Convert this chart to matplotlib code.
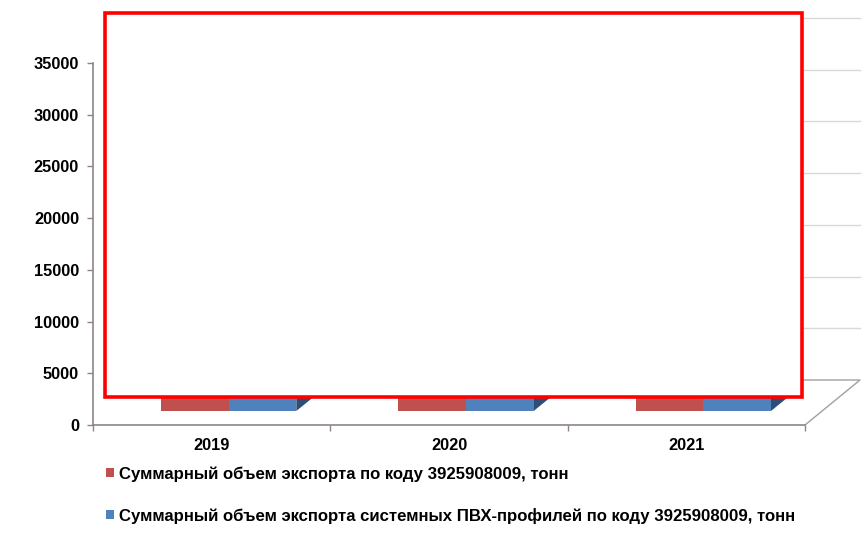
import matplotlib.pyplot as plt
import matplotlib.transforms as mtransforms
from matplotlib.patches import Polygon, Rectangle, Patch

plt.rcParams['font.family'] = ['Liberation Sans', 'DejaVu Sans']
plt.rcParams['font.weight'] = 'bold'

# export volumes, tonnes
years = ['2019', '2020', '2021']
total_export = [21500, 24300, 30600]
pvc_export = [17800, 20100, 26200]
series_names = [
    'Суммарный объем экспорта по коду 3925908009, тонн',
    'Суммарный объем экспорта системных ПВХ-профилей по коду 3925908009, тонн',
]
y_ticks = [0, 5000, 10000, 15000, 20000, 25000, 30000, 35000]

face_colors = ['#c0504d', '#4f81bd']
top_colors = ['#d98a88', '#8fb0d9']
side_colors = ['#8c3836', '#2f4d75']

W, H = 867, 538
fig = plt.figure(figsize=(W / 100, H / 100), dpi=100)
fig.patch.set_facecolor('white')

# plot frame in pixels (front plane)
left, right, bottom, top = 93, 805, 425, 63
ax = fig.add_axes([left / W, (H - bottom) / H, (right - left) / W, (bottom - top) / H])
ax.set_xlim(-0.5, len(years) - 0.5)
ax.set_ylim(0, 35000)
ax.patch.set_alpha(0)

ident = mtransforms.IdentityTransform()
wall = (55, 45)       # depth of the floor / back wall in px
bar_front = (17, 14)  # depth of the bar front faces
bar_back = (33, 27)


def proj(x, y, d):
    px, py = ax.transData.transform((x, y))
    return (px + d[0], py + d[1])


def line(pts, **kw):
    ax.add_line(plt.Line2D([p[0] for p in pts], [p[1] for p in pts], transform=ident,
                           clip_on=False, **kw))


grid_col = '#d9d9d9'
x0, x1 = -0.5, len(years) - 0.5
for t in y_ticks[1:]:
    line([proj(x0, t, wall), proj(x1, t, wall)], color=grid_col, lw=1.0, zorder=1)

# floor edges (right and back)
line([proj(x1, 0, (0, 0)), proj(x1, 0, wall), proj(x0, 0, wall)], color='#a59f9d', lw=1.0, zorder=1)

# 3D columns
bw = 0.285
for i in range(len(years)):
    for j, vals in enumerate([total_export, pvc_export]):
        v = vals[i]
        a = i - bw + j * bw
        b = a + bw
        front = [proj(a, 0, bar_front), proj(b, 0, bar_front), proj(b, v, bar_front), proj(a, v, bar_front)]
        topf = [proj(a, v, bar_front), proj(b, v, bar_front), proj(b, v, bar_back), proj(a, v, bar_back)]
        side = [proj(b, 0, bar_front), proj(b, 0, bar_back), proj(b, v, bar_back), proj(b, v, bar_front)]
        for poly, col in [(side, side_colors[j]), (topf, top_colors[j]), (front, face_colors[j])]:
            ax.add_patch(Polygon(poly, closed=True, transform=ident, facecolor=col,
                                 edgecolor='none', zorder=2 + j, clip_on=False))

axis_col = '#8c8583'
for s in ['top', 'right']:
    ax.spines[s].set_visible(False)
for s in ['left', 'bottom']:
    ax.spines[s].set_color(axis_col)
    ax.spines[s].set_linewidth(1.2)
    ax.spines[s].set_zorder(5)

ax.set_yticks(y_ticks)
ax.set_yticklabels([str(t) for t in y_ticks])
ax.tick_params(axis='y', length=4, width=1, color=axis_col, pad=6, labelsize=11.8)
ax.set_xticks(range(len(years)))
ax.set_xticklabels(years)
ax.set_xticks([k - 0.5 for k in range(len(years) + 1)], minor=True)
ax.tick_params(axis='x', which='major', length=0, pad=9, labelsize=11.8)
ax.tick_params(axis='x', which='minor', length=4, width=1, color=axis_col)

# white panel with red frame over the plot area
fig.add_artist(Rectangle((105 / W, (H - 397) / H), (802 - 105) / W, (397 - 13) / H,
                         transform=fig.transFigure, facecolor='white', edgecolor='#ff0000',
                         lw=2.6, zorder=10))

handles = [Patch(facecolor=c, edgecolor='none') for c in face_colors]
fig.legend(handles, series_names, loc='upper left', bbox_to_anchor=(106 / W, (H - 466) / H),
           frameon=False, handlelength=0.5, handleheight=0.5, handletextpad=0.3,
           labelspacing=1.55, fontsize=12.1, borderaxespad=0, borderpad=0)

fig.savefig('out.png', dpi=100)
